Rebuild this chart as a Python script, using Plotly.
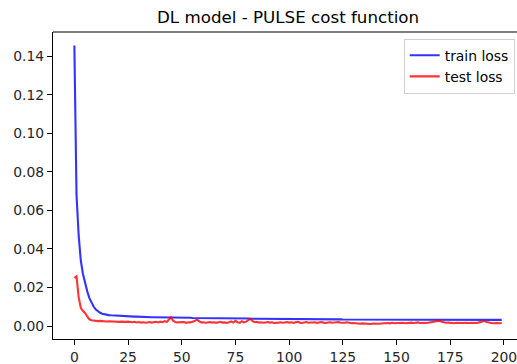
import plotly.graph_objects as go

epochs = list(range(200))

train_loss = [
    0.1455, 0.0680, 0.0470, 0.0340, 0.0270, 0.0220, 0.0180, 0.0145, 0.0120, 0.0100,
    0.0086, 0.0076, 0.0069, 0.0064, 0.0061, 0.0059, 0.0057, 0.0056, 0.0055, 0.0054,
    0.0053, 0.0053, 0.0052, 0.0052, 0.0051, 0.0051, 0.0050, 0.0050, 0.0049, 0.0049,
    0.0048, 0.0048, 0.0048, 0.0047, 0.0047, 0.0047, 0.0046, 0.0046, 0.0046, 0.0046,
    0.0045, 0.0045, 0.0045, 0.0045, 0.0044, 0.0045, 0.0044, 0.0044, 0.0044, 0.0044,
    0.0043, 0.0043, 0.0043, 0.0043, 0.0043, 0.0042, 0.0042, 0.0042, 0.0042, 0.0042,
    0.0042, 0.0041, 0.0041, 0.0041, 0.0041, 0.0041, 0.0041, 0.0040, 0.0040, 0.0040,
    0.0040, 0.0040, 0.0040, 0.0040, 0.0039, 0.0039, 0.0039, 0.0039, 0.0039, 0.0039,
    0.0039, 0.0039, 0.0038, 0.0038, 0.0038, 0.0038, 0.0038, 0.0038, 0.0038, 0.0038,
    0.0037, 0.0037, 0.0037, 0.0037, 0.0037, 0.0037, 0.0037, 0.0037, 0.0037, 0.0036,
    0.0036, 0.0036, 0.0036, 0.0036, 0.0036, 0.0036, 0.0036, 0.0036, 0.0036, 0.0036,
    0.0036, 0.0035, 0.0035, 0.0035, 0.0035, 0.0035, 0.0035, 0.0035, 0.0035, 0.0035,
    0.0035, 0.0035, 0.0035, 0.0035, 0.0035, 0.0034, 0.0034, 0.0034, 0.0034, 0.0034,
    0.0034, 0.0034, 0.0034, 0.0034, 0.0034, 0.0034, 0.0034, 0.0034, 0.0034, 0.0034,
    0.0034, 0.0034, 0.0034, 0.0034, 0.0034, 0.0034, 0.0033, 0.0033, 0.0033, 0.0033,
    0.0033, 0.0033, 0.0033, 0.0033, 0.0033, 0.0033, 0.0033, 0.0033, 0.0033, 0.0033,
    0.0033, 0.0033, 0.0033, 0.0033, 0.0033, 0.0033, 0.0033, 0.0033, 0.0033, 0.0033,
    0.0033, 0.0033, 0.0033, 0.0033, 0.0033, 0.0033, 0.0033, 0.0033, 0.0033, 0.0033,
    0.0033, 0.0032, 0.0032, 0.0032, 0.0032, 0.0032, 0.0032, 0.0032, 0.0032, 0.0032,
    0.0032, 0.0032, 0.0032, 0.0032, 0.0032, 0.0032, 0.0032, 0.0032, 0.0032, 0.0032,
]

test_loss = [
    0.0250, 0.0258, 0.0150, 0.0095, 0.0078, 0.0068, 0.0050, 0.0035, 0.0030, 0.0028,
    0.0027, 0.0026, 0.0027, 0.0025, 0.0026, 0.0024, 0.0025, 0.0024, 0.0025, 0.0023,
    0.0024, 0.0022, 0.0023, 0.0021, 0.0022, 0.0023, 0.0021, 0.0020, 0.0022, 0.0019,
    0.0021, 0.0018, 0.0020, 0.0017, 0.0019, 0.0021, 0.0018, 0.0020, 0.0022, 0.0019,
    0.0023, 0.0020, 0.0026, 0.0021, 0.0032, 0.0046, 0.0028, 0.0021, 0.0019, 0.0020,
    0.0018, 0.0021, 0.0017, 0.0020, 0.0019, 0.0022, 0.0026, 0.0034, 0.0024, 0.0019,
    0.0020, 0.0017, 0.0019, 0.0021, 0.0018, 0.0020, 0.0017, 0.0019, 0.0022, 0.0018,
    0.0019, 0.0016, 0.0021, 0.0024, 0.0018, 0.0027, 0.0020, 0.0017, 0.0025, 0.0019,
    0.0023, 0.0030, 0.0038, 0.0026, 0.0020, 0.0022, 0.0018, 0.0020, 0.0017, 0.0019,
    0.0021, 0.0018, 0.0020, 0.0016, 0.0019, 0.0018, 0.0020, 0.0017, 0.0019, 0.0021,
    0.0018, 0.0020, 0.0017, 0.0019, 0.0022, 0.0018, 0.0016, 0.0019, 0.0021, 0.0017,
    0.0019, 0.0018, 0.0020, 0.0017, 0.0019, 0.0021, 0.0018, 0.0016, 0.0019, 0.0020,
    0.0017, 0.0019, 0.0018, 0.0021, 0.0017, 0.0016, 0.0018, 0.0020, 0.0017, 0.0015,
    0.0016, 0.0014, 0.0013, 0.0012, 0.0014, 0.0013, 0.0012, 0.0013, 0.0011, 0.0013,
    0.0012, 0.0014, 0.0012, 0.0013, 0.0015, 0.0013, 0.0016, 0.0014, 0.0017, 0.0015,
    0.0016, 0.0018, 0.0016, 0.0017, 0.0015, 0.0017, 0.0016, 0.0018, 0.0016, 0.0017,
    0.0019, 0.0016, 0.0018, 0.0017, 0.0016, 0.0018, 0.0017, 0.0019, 0.0022, 0.0026,
    0.0028, 0.0023, 0.0019, 0.0017, 0.0018, 0.0016, 0.0017, 0.0015, 0.0017, 0.0016,
    0.0018, 0.0016, 0.0017, 0.0015, 0.0016, 0.0017, 0.0015, 0.0016, 0.0018, 0.0020,
    0.0024, 0.0026, 0.0021, 0.0017, 0.0016, 0.0015, 0.0017, 0.0016, 0.0015, 0.0016,
]

x_ticks = [0, 25, 50, 75, 100, 125, 150, 175, 200]
y_ticks = [0.00, 0.02, 0.04, 0.06, 0.08, 0.10, 0.12, 0.14]
y_tick_labels = ["0.00", "0.02", "0.04", "0.06", "0.08", "0.10", "0.12", "0.14"]

FONT = "DejaVu Sans"

fig = go.Figure()
fig.add_trace(go.Scatter(x=epochs, y=train_loss, mode="lines", name="train loss",
                         line=dict(color="rgba(0,0,255,0.8)", width=2.1)))
fig.add_trace(go.Scatter(x=epochs, y=test_loss, mode="lines", name="test loss",
                         line=dict(color="rgba(255,0,0,0.8)", width=2.1)))

axis_common = dict(
    showgrid=False, zeroline=False, showline=True, linecolor="#000000", linewidth=1.1,
    ticks="outside", ticklen=5, tickwidth=1.1, tickcolor="#000000",
    tickfont=dict(family=FONT, size=13.9, color="#262626"),
    ticklabeloverflow="allow",
)

fig.update_layout(
    width=517, height=364,
    margin=dict(l=53, r=0, t=32, b=25),
    paper_bgcolor="white", plot_bgcolor="white",
    showlegend=True,
    legend=dict(x=0.995, y=0.978, xanchor="right", yanchor="top",
                bgcolor="rgba(255,255,255,0.8)", bordercolor="#d0d0d0", borderwidth=1,
                font=dict(family=FONT, size=13.9, color="#000000"),
                tracegroupgap=0, itemwidth=30),
    xaxis=dict(range=[-9.95, 206.1], tickvals=x_ticks, **axis_common),
    yaxis=dict(range=[-0.0067, 0.1525], tickvals=y_ticks, ticktext=y_tick_labels, **axis_common),
    annotations=[dict(text="DL model - PULSE cost function", xref="paper", yref="paper",
                      x=(288 - 53) / (517 - 53), y=1, xanchor="center", yanchor="bottom",
                      yshift=3, showarrow=False,
                      font=dict(family=FONT, size=16.7, color="#000000"))],
    shapes=[dict(type="line", xref="paper", yref="paper", x0=0, x1=1, y0=1, y1=1,
                 line=dict(color="#000000", width=1.1))],
)

fig.write_html("out.html")
